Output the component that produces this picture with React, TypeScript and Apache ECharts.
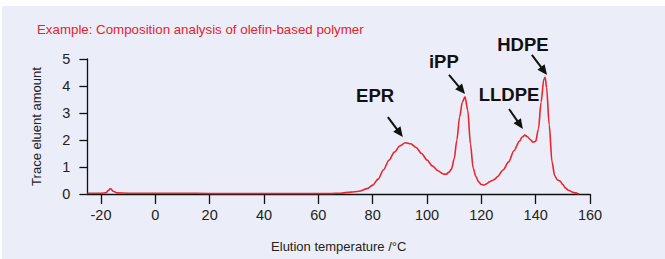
import React, { useEffect, useRef } from "react";
import * as echarts from "echarts";

const temps = [-25, -20, -18, -17.5, -16.5, -15.5, -14, -10, 0, 10, 20, 30, 40, 50, 60, 65, 68, 72, 75, 78, 80, 82, 84, 86, 88, 90, 92, 94, 96, 98, 100, 102, 104, 106, 107, 108, 109, 110, 111, 112, 113, 114, 115, 116, 117, 118, 119, 120, 121, 122, 123, 124, 125, 126, 128, 130, 132, 134, 135, 136, 137, 138, 139, 140, 141, 142, 143, 143.5, 144, 145, 146, 147, 148, 149, 150, 151, 152, 154, 156];
const amounts = [0.03, 0.03, 0.05, 0.12, 0.2, 0.1, 0.04, 0.03, 0.03, 0.03, 0.02, 0.02, 0.02, 0.02, 0.02, 0.02, 0.03, 0.07, 0.1, 0.2, 0.33, 0.55, 0.9, 1.25, 1.55, 1.78, 1.9, 1.86, 1.72, 1.5, 1.26, 1.04, 0.86, 0.74, 0.73, 0.8, 0.92, 1.3, 2.0, 2.85, 3.4, 3.6, 3.1, 1.85, 0.95, 0.65, 0.45, 0.35, 0.33, 0.38, 0.45, 0.5, 0.55, 0.65, 0.89, 1.18, 1.6, 1.95, 2.1, 2.18, 2.12, 2.02, 1.92, 1.95, 2.4, 3.4, 4.25, 4.32, 3.95, 2.55, 1.2, 0.68, 0.52, 0.48, 0.35, 0.22, 0.14, 0.05, 0];

const peakNames = ["EPR", "iPP", "LLDPE", "HDPE"];
const labelCoords = [[80.9, 3.63], [106.2, 4.89], [130.2, 3.67], [135.3, 5.52]];
const arrowFrom = [[85.6, 2.85], [108.1, 4.41], [130.2, 3.15], [138.6, 5.15]];
const arrowTo = [[91.1, 2.11], [114.0, 3.7], [135.3, 2.41], [144.2, 4.41]];

const xTickValues = [-20, 0, 20, 40, 60, 80, 100, 120, 140, 160];
const yTicks = { min: 0, max: 5, interval: 1 };

const FONT = "'Liberation Sans', Arial, Helvetica, sans-serif";

export default function App() {
  const ref = useRef<HTMLDivElement>(null);
  useEffect(() => {
    if (!ref.current) return;
    const chart = echarts.init(ref.current, null, { renderer: "svg" });
    const data = temps.map((t, i) => [t, amounts[i]]);
    const bg = {
      type: "rect",
      left: 2,
      top: 6,
      shape: { width: 663, height: 253 },
      style: { fill: "#ebeef8" },
      z: -10,
    };
    chart.setOption({
      animation: false,
      backgroundColor: "#ffffff",
      graphic: [bg],
      title: {
        text: "Example: Composition analysis of olefin-based polymer",
        left: 32,
        top: 18,
        textStyle: { color: "#e8212b", fontSize: 13.3, fontWeight: "normal", fontFamily: FONT },
      },
      grid: { left: 87.4, right: 75, top: 59, bottom: 65, containLabel: false },
      xAxis: {
        type: "value",
        min: -25,
        max: 160,
        interval: 5,
        axisLabel: {
          customValues: xTickValues,
          color: "#222",
          fontSize: 14.5,
          fontFamily: FONT,
          margin: 13,
        },
        axisTick: {
          customValues: xTickValues,
          length: 10,
          lineStyle: { color: "#111", width: 1.3 },
        },
        axisLine: { onZero: false, lineStyle: { color: "#111", width: 1.3 } },
        splitLine: { show: false },
        name: "Elution temperature /°C",
        nameLocation: "middle",
        nameGap: 46,
        nameTextStyle: { color: "#222", fontSize: 13, fontFamily: FONT },
      },
      yAxis: {
        type: "value",
        min: yTicks.min,
        max: yTicks.max,
        interval: yTicks.interval,
        axisLabel: { color: "#222", fontSize: 14.5, fontFamily: FONT, margin: 17 },
        axisTick: { show: true, length: 8, lineStyle: { color: "#111", width: 1.3 } },
        axisLine: { show: true, onZero: false, lineStyle: { color: "#111", width: 1.3 } },
        splitLine: { show: false },
        name: "Trace eluent amount",
        nameLocation: "middle",
        nameGap: 44,
        nameTextStyle: { color: "#222", fontSize: 13, fontFamily: FONT },
      },
      series: [
        {
          type: "line",
          data,
          showSymbol: false,
          symbol: "none",
          smooth: 0.3,
          smoothMonotone: "x",
          clip: false,
          lineStyle: { color: "#e8262b", width: 1.6 },
        },
      ],
    });

    const annotations: any[] = [];
    peakNames.forEach((name, i) => {
      const lp = chart.convertToPixel({ gridIndex: 0 }, labelCoords[i]) as number[];
      const a = chart.convertToPixel({ gridIndex: 0 }, arrowFrom[i]) as number[];
      const b = chart.convertToPixel({ gridIndex: 0 }, arrowTo[i]) as number[];
      const dx = b[0] - a[0];
      const dy = b[1] - a[1];
      const len = Math.sqrt(dx * dx + dy * dy);
      const ux = dx / len;
      const uy = dy / len;
      const headLen = 10;
      const headHalf = 4.5;
      const bx = b[0] - ux * headLen;
      const by = b[1] - uy * headLen;
      annotations.push({
        type: "text",
        x: lp[0],
        y: lp[1],
        style: {
          text: name,
          fill: "#111",
          font: `bold 18.5px ${FONT}`,
          textAlign: "center",
          textVerticalAlign: "middle",
        },
        z: 10,
      });
      annotations.push({
        type: "line",
        shape: { x1: a[0], y1: a[1], x2: bx + ux * 2, y2: by + uy * 2 },
        style: { stroke: "#111", lineWidth: 2 },
        z: 10,
      });
      annotations.push({
        type: "polygon",
        shape: {
          points: [
            [b[0], b[1]],
            [bx - uy * headHalf, by + ux * headHalf],
            [bx + uy * headHalf, by - ux * headHalf],
          ],
        },
        style: { fill: "#111" },
        z: 10,
      });
    });
    chart.setOption({ graphic: [bg, ...annotations] }, { replaceMerge: ["graphic"] });

    return () => chart.dispose();
  }, []);
  return (
    <div
      ref={ref}
      style={{ position: "absolute", left: 0, top: 0, width: 665, height: 259 }}
    />
  );
}
